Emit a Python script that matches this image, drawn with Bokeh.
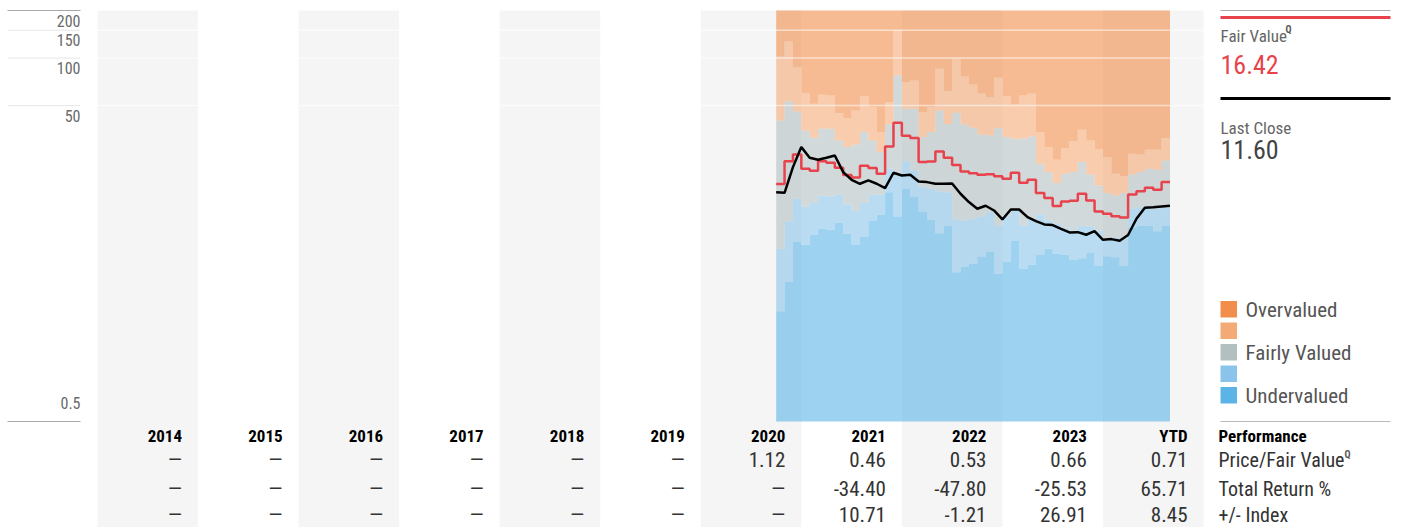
import math
from bokeh.plotting import figure
from bokeh.models import Range1d, LinearScale
from bokeh.core.properties import value
from bokeh.embed import file_html
from bokeh.resources import INLINE

# ---------------- data ----------------
years = ["2014", "2015", "2016", "2017", "2018", "2019", "2020", "2021", "2022", "2023", "YTD"]
first_year = 2014
start_year, start_month = 2020, 10          # first monthly bar: Oct 2020

# month-end closing price (points at month boundaries)
price = [14.16, 14.03, 20.39, 27.30, 23.37, 22.70, 23.37, 24.17, 18.96, 16.96,
         16.00, 16.80, 16.00, 15.02, 18.78, 18.06, 18.24, 16.55, 16.39, 16.00,
         16.00, 16.08, 13.83, 12.25, 11.11, 11.61, 10.84, 9.51, 11.00, 11.00,
         9.84, 9.28, 8.84, 8.76, 8.30, 7.87, 7.90, 7.61, 8.02, 7.07,
         7.14, 6.97, 7.58, 9.60, 11.27, 11.38, 11.50, 11.60]

# fair value estimate per month (step)
fair_value = [15.92, 22.25, 24.53, 19.90, 19.33, 22.25, 21.73, 20.20, 18.15, 17.54,
              20.79, 20.10, 18.50, 27.55, 38.90, 32.19, 31.12, 21.94, 22.10, 25.62,
              23.37, 21.00, 19.14, 18.68, 18.24, 18.41, 17.88, 17.20, 18.78, 16.23,
              16.96, 13.96, 12.98, 11.55, 12.36, 12.48, 13.83, 12.55, 10.69, 10.33,
              9.98, 9.79, 13.69, 14.37, 15.09, 14.66, 16.42]

# valuation band boundaries per month
band_over = [102.3, 127.3, 87.6, 59.9, 51.3, 58.5, 57.9, 44.8, 41.7, 46.6,
             57.1, 48.9, 34.0, 52.6, 149.4, 70.4, 72.1, 45.5, 48.9, 85.5,
             61.7, 98.9, 76.4, 68.0, 59.4, 56.5, 74.9, 57.1, 50.6, 57.9,
             59.4, 34.0, 27.3, 22.70, 26.9, 29.8, 35.1, 30.1, 26.4, 23.59,
             18.50, 17.88, 24.77, 24.53, 26.3, 26.3, 31.1]
band_fair_hi = [40.25, 53.1, 45.9, 34.8, 31.3, 35.7, 35.7, 30.1, 27.3, 28.4,
                34.0, 30.1, 25.4, 38.0, 77.6, 47.7, 47.7, 31.6, 34.0, 46.6,
                38.3, 45.0, 38.0, 36.2, 32.8, 32.4, 36.0, 31.6, 30.8, 30.8,
                31.9, 21.4, 18.96, 16.16, 18.50, 18.96, 21.94, 18.32, 15.61, 13.96,
                13.49, 13.96, 18.32, 18.96, 19.9, 19.61, 22.47]
band_fair_lo = [6.20, 9.24, 12.85, 11.49, 12.07, 13.49, 13.30, 13.62, 11.84, 10.74,
                12.07, 13.62, 13.62, 19.9, 18.50, 22.14, 19.43, 15.23, 14.87, 14.30,
                14.16, 9.51, 9.37, 9.60, 9.94, 10.58, 8.71, 9.84, 10.74, 8.71,
                9.60, 10.23, 9.37, 8.93, 8.42, 8.10, 8.67, 8.59, 8.10, 7.28,
                7.28, 7.28, 11.11, 11.38, 11.55, 11.11, 11.66]
band_under = [2.49, 3.85, 6.90, 6.58, 7.61, 8.30, 8.18, 9.02, 7.72, 6.61,
              7.42, 9.37, 10.23, 14.16, 9.94, 14.87, 13.17, 10.69, 9.46, 7.79,
              8.71, 4.41, 4.75, 4.98, 5.55, 5.97, 4.31, 5.16, 7.00, 4.63,
              4.91, 5.71, 6.20, 5.77, 5.68, 5.28, 5.41, 5.88, 4.82, 5.57,
              5.49, 4.82, 8.42, 8.67, 8.67, 8.02, 8.67]

y_ticks = [200, 150, 100, 50, 0.5]
y_tick_labels = ["200", "150", "100", "50", "0.5"]

price_fair = [None, None, None, None, None, None, 1.12, 0.46, 0.53, 0.66, 0.71]
total_return = [None, None, None, None, None, None, None, -34.40, -47.80, -25.53, 65.71]
plus_minus_index = [None, None, None, None, None, None, None, 10.71, -1.21, 26.91, 8.45]

legend_labels = ["Overvalued", "", "Fairly Valued", "", "Undervalued"]
legend_colors = ["#f18e4b", "#f4aa75", "#b2c0c1", "#8ac4ea", "#5cb4e6"]

# ---------------- layout ----------------
W, H = 1412, 527
FONT = value("Roboto Condensed, Roboto")

PLOT_L, PLOT_R = 97, 1203
PLOT_T, PLOT_B = 10, 421
COL_W = (PLOT_R - PLOT_L) / len(years)
Y_MIN, Y_MAX = 0.5, 200
DEC = (PLOT_B - PLOT_T) / math.log10(Y_MAX / Y_MIN)

x_range = Range1d(-PLOT_L / COL_W, (W - PLOT_L) / COL_W)
y_range = Range1d(Y_MIN * 10 ** (-(H - PLOT_B) / DEC),
                  Y_MAX * 10 ** (PLOT_T / DEC))

p = figure(width=W, height=H, x_range=x_range, y_range=y_range,
           y_axis_type="log", x_axis_location=None, y_axis_location=None,
           toolbar_location=None, output_backend="svg", min_border=0,
           outline_line_color=None, background_fill_color="white",
           border_fill_color="white")
for g in p.grid:
    g.visible = False
p.extra_x_ranges = {"px": Range1d(0, W)}
p.extra_y_ranges = {"py": Range1d(H, 0)}
p.extra_x_scales = {"px": LinearScale()}
p.extra_y_scales = {"py": LinearScale()}

# alternating year columns
band_idx = [i for i in range(len(years)) if i % 2 == 0]
p.quad(left=band_idx, right=[i + 1 for i in band_idx],
       bottom=[H] * len(band_idx), top=[PLOT_T] * len(band_idx),
       y_range_name="py", fill_color="#f5f5f5", line_color=None)

# monthly x positions (column units: 1 unit = 1 year)
n_m = len(fair_value)
month_x = [(start_year - first_year) + (start_month - 1 + j) / 12 for j in range(n_m)]
edge_x = month_x + [month_x[-1] + 1 / 12]

xs_step = []
for x0 in month_x:
    xs_step += [x0, x0 + 1 / 12]


def stepify(vals):
    out = []
    for v in vals:
        out += [v, v]
    return out


layers = [
    ([Y_MIN] * n_m, band_under, legend_colors[4]),
    (band_under, band_fair_lo, legend_colors[3]),
    (band_fair_lo, band_fair_hi, legend_colors[2]),
    (band_fair_hi, band_over, legend_colors[1]),
    (band_over, [Y_MAX] * n_m, legend_colors[0]),
]
for lo, hi, col in layers:
    p.varea(x=xs_step, y1=stepify(lo), y2=stepify(hi),
            fill_color=col, fill_alpha=0.6)

# gridlines across the plot
grid_vals = [v for v in y_ticks if Y_MIN < v < Y_MAX]
p.segment(x0=[0] * len(grid_vals), x1=[len(years)] * len(grid_vals),
          y0=grid_vals, y1=grid_vals, line_color="white", line_alpha=0.55,
          line_width=1.5)

# gutter lines + y labels
gutter_cols = ["#a8a8a8" if v in (Y_MIN, Y_MAX) else "#e6e6e6" for v in y_ticks]
p.segment(x0=[7] * len(y_ticks), x1=[80] * len(y_ticks), y0=y_ticks, y1=y_ticks,
          x_range_name="px", line_color=gutter_cols, line_width=1)


def tick_px(v):
    return PLOT_T + (math.log10(Y_MAX) - math.log10(v)) * DEC


label_y = [tick_px(v) + 10 if v > Y_MIN else tick_px(v) - 19 for v in y_ticks]
p.text(x=[80] * len(y_ticks), y=label_y, text=y_tick_labels,
       x_range_name="px", y_range_name="py", text_align="right", text_baseline="middle",
       text_font=FONT, text_font_size="16px", text_color="#6a6a6a")

# fair value (step) and price (line)
p.step(x=edge_x, y=fair_value + [fair_value[-1]], mode="after",
       line_color="#e8424c", line_width=2.5)
price_x = [(start_year - first_year) + (start_month - 1 + k) / 12 for k in range(len(price))]
p.line(x=price_x, y=price, line_color="black", line_width=2.5)

# ---------------- right panel ----------------
RX0, RX1 = 1220, 1390
p.segment(x0=[RX0, RX0, RX0, RX0], x1=[RX1, RX1, RX1, RX1],
          y0=[10, 17, 98, 421], y1=[10, 17, 98, 421],
          x_range_name="px", y_range_name="py",
          line_color=["#aaaaaa", "#e8424c", "black", "#bbbbbb"],
          line_width=[1, 3, 3, 1])
p.text(x=[RX0, RX0], y=[35, 127], text=["Fair Value", "Last Close"],
       x_range_name="px", y_range_name="py", text_baseline="middle",
       text_font=FONT, text_font_size="17px", text_color="#666666")
p.text(x=[1285, 1344], y=[29, 454], text=["Q", "Q"],
       x_range_name="px", y_range_name="py", text_baseline="middle",
       text_font=FONT, text_font_size="10px", text_font_style="bold", text_color="#555555")
p.text(x=[RX0], y=[64], text=["%.2f" % fair_value[-1]],
       x_range_name="px", y_range_name="py", text_baseline="middle",
       text_font=FONT, text_font_size="26px", text_color="#e8424c")
p.text(x=[RX0], y=[149], text=["%.2f" % price[-1]],
       x_range_name="px", y_range_name="py", text_baseline="middle",
       text_font=FONT, text_font_size="26px", text_color="#444444")

# legend
sq_top = [300.5, 322, 343.5, 365, 386.5]
p.quad(left=[RX0] * 5, right=[RX0 + 16.5] * 5,
       top=sq_top, bottom=[t + 16.5 for t in sq_top],
       x_range_name="px", y_range_name="py", fill_color=legend_colors, line_color=None)
lab_idx = [i for i, s in enumerate(legend_labels) if s]
p.text(x=[1245] * len(lab_idx), y=[sq_top[i] + 8.5 for i in lab_idx],
       text=[legend_labels[i] for i in lab_idx],
       x_range_name="px", y_range_name="py", text_baseline="middle",
       text_font=FONT, text_font_size="21px", text_color="#555555")

# ---------------- table ----------------
col_right = [PLOT_L + (i + 1) * COL_W - 16 for i in range(len(years))]
row_y = [435, 459, 488, 514]
p.text(x=col_right, y=[row_y[0]] * len(years), text=years,
       x_range_name="px", y_range_name="py", text_align="right", text_baseline="middle",
       text_font=FONT, text_font_size="17px", text_font_style="bold", text_color="black")


def fmt(v):
    return "\u2014" if v is None else "%.2f" % v


for r, row in enumerate([price_fair, total_return, plus_minus_index]):
    p.text(x=col_right, y=[row_y[r + 1]] * len(years), text=[fmt(v) for v in row],
           x_range_name="px", y_range_name="py", text_align="right", text_baseline="middle",
           text_font=FONT, text_font_size="21px", text_color="#333333")

p.text(x=[1218], y=[row_y[0]], text=["Performance"],
       x_range_name="px", y_range_name="py", text_baseline="middle",
       text_font=FONT, text_font_size="17px", text_font_style="bold", text_color="black")
p.text(x=[1218] * 3, y=row_y[1:], text=["Price/Fair Value", "Total Return %", "+/- Index"],
       x_range_name="px", y_range_name="py", text_baseline="middle",
       text_font=FONT, text_font_size="20px", text_color="#333333")

open("out.html", "w").write(file_html(p, INLINE))
